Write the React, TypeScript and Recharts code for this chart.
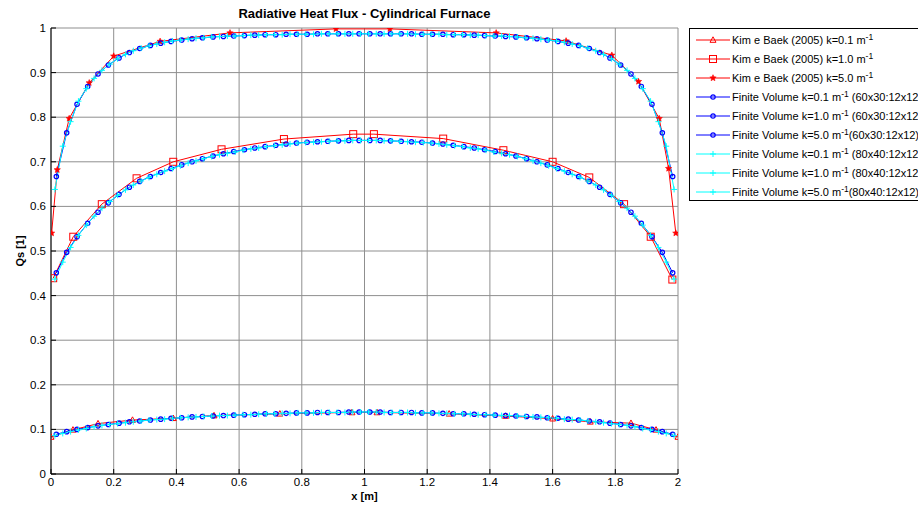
import React from 'react';
import { LineChart, Line, XAxis, YAxis, CartesianGrid } from 'recharts';

const X_TICKS = [0, 0.2, 0.4, 0.6, 0.8, 1, 1.2, 1.4, 1.6, 1.8, 2];
const Y_TICKS = [0, 0.1, 0.2, 0.3, 0.4, 0.5, 0.6, 0.7, 0.8, 0.9, 1];

// Kim e Baek (2005) reference points
const KIM_K01_X = [0, 0.07, 0.15, 0.26, 0.39, 0.52, 0.73, 0.96, 1.04, 1.27, 1.45, 1.6, 1.72, 1.85, 1.93, 2];
const KIM_K01_Y = [0.083, 0.099, 0.113, 0.121, 0.125, 0.131, 0.135, 0.138, 0.138, 0.135, 0.130, 0.124, 0.117, 0.114, 0.099, 0.083];
const KIM_K1_X = [0.007, 0.071, 0.162, 0.273, 0.39, 0.544, 0.743, 0.964, 1.03, 1.251, 1.443, 1.6, 1.717, 1.828, 1.913, 1.982];
const KIM_K1_Y = [0.439, 0.532, 0.605, 0.663, 0.700, 0.728, 0.751, 0.762, 0.762, 0.752, 0.726, 0.700, 0.665, 0.605, 0.532, 0.436];
const KIM_K5_X = [0.002, 0.02, 0.058, 0.122, 0.2, 0.348, 0.571, 0.909, 1.081, 1.42, 1.643, 1.789, 1.874, 1.94, 1.97, 1.993];
const KIM_K5_Y = [0.540, 0.682, 0.797, 0.877, 0.937, 0.970, 0.989, 0.998, 0.998, 0.989, 0.971, 0.939, 0.880, 0.797, 0.685, 0.540];

// Finite Volume 60x30 cell centres
const FV60_X = [0.017, 0.05, 0.083, 0.117, 0.15, 0.183, 0.217, 0.25, 0.283, 0.317, 0.35, 0.383, 0.417, 0.45, 0.483, 0.517, 0.55, 0.583, 0.617, 0.65, 0.683, 0.717, 0.75, 0.783, 0.817, 0.85, 0.883, 0.917, 0.95, 0.983,
  1.017, 1.05, 1.083, 1.117, 1.15, 1.183, 1.217, 1.25, 1.283, 1.317, 1.35, 1.383, 1.417, 1.45, 1.483, 1.517, 1.55, 1.583, 1.617, 1.65, 1.683, 1.717, 1.75, 1.783, 1.817, 1.85, 1.883, 1.917, 1.95, 1.983];
const FV60_K01 = [0.089, 0.095, 0.100, 0.104, 0.108, 0.111, 0.114, 0.117, 0.119, 0.121, 0.123, 0.125, 0.126, 0.128, 0.129, 0.130, 0.131, 0.132, 0.133, 0.134, 0.135, 0.135, 0.136, 0.137, 0.137, 0.138, 0.138, 0.138, 0.139, 0.139,
  0.139, 0.139, 0.138, 0.138, 0.138, 0.137, 0.137, 0.136, 0.135, 0.135, 0.134, 0.133, 0.132, 0.131, 0.130, 0.129, 0.128, 0.126, 0.125, 0.123, 0.121, 0.119, 0.117, 0.114, 0.111, 0.108, 0.104, 0.100, 0.095, 0.089];
const FV60_K1 = [0.451, 0.497, 0.532, 0.562, 0.587, 0.608, 0.627, 0.643, 0.656, 0.667, 0.676, 0.685, 0.693, 0.700, 0.707, 0.713, 0.718, 0.723, 0.727, 0.731, 0.734, 0.737, 0.740, 0.742, 0.744, 0.745, 0.746, 0.747, 0.748, 0.748,
  0.748, 0.748, 0.747, 0.746, 0.745, 0.744, 0.742, 0.740, 0.737, 0.734, 0.731, 0.727, 0.723, 0.718, 0.713, 0.707, 0.700, 0.693, 0.685, 0.676, 0.667, 0.656, 0.643, 0.627, 0.608, 0.587, 0.562, 0.532, 0.497, 0.451];
const FV60_K5 = [0.667, 0.765, 0.829, 0.869, 0.897, 0.917, 0.933, 0.945, 0.954, 0.961, 0.966, 0.970, 0.973, 0.976, 0.978, 0.980, 0.981, 0.982, 0.983, 0.984, 0.985, 0.985, 0.986, 0.986, 0.986, 0.987, 0.987, 0.987, 0.987, 0.987,
  0.987, 0.987, 0.987, 0.987, 0.987, 0.986, 0.986, 0.986, 0.985, 0.985, 0.984, 0.983, 0.982, 0.981, 0.980, 0.978, 0.976, 0.973, 0.970, 0.966, 0.961, 0.954, 0.945, 0.933, 0.917, 0.897, 0.869, 0.829, 0.765, 0.667];

// Finite Volume 80x40 cell centres
const FV80_X = [0.0125, 0.0375, 0.0625, 0.0875, 0.1125, 0.1375, 0.1625, 0.1875, 0.2125, 0.2375,
  0.2625, 0.2875, 0.3125, 0.3375, 0.3625, 0.3875, 0.4125, 0.4375, 0.4625, 0.4875,
  0.5125, 0.5375, 0.5625, 0.5875, 0.6125, 0.6375, 0.6625, 0.6875, 0.7125, 0.7375,
  0.7625, 0.7875, 0.8125, 0.8375, 0.8625, 0.8875, 0.9125, 0.9375, 0.9625, 0.9875,
  1.0125, 1.0375, 1.0625, 1.0875, 1.1125, 1.1375, 1.1625, 1.1875, 1.2125, 1.2375,
  1.2625, 1.2875, 1.3125, 1.3375, 1.3625, 1.3875, 1.4125, 1.4375, 1.4625, 1.4875,
  1.5125, 1.5375, 1.5625, 1.5875, 1.6125, 1.6375, 1.6625, 1.6875, 1.7125, 1.7375,
  1.7625, 1.7875, 1.8125, 1.8375, 1.8625, 1.8875, 1.9125, 1.9375, 1.9625, 1.9875];
const FV80_K01 = [0.086, 0.091, 0.095, 0.099, 0.102, 0.106, 0.109, 0.111, 0.113, 0.115, 0.117, 0.119, 0.121, 0.122, 0.123, 0.125, 0.126, 0.127, 0.128, 0.129,
  0.130, 0.131, 0.131, 0.132, 0.133, 0.133, 0.134, 0.135, 0.135, 0.136, 0.136, 0.137, 0.137, 0.137, 0.138, 0.138, 0.138, 0.138, 0.139, 0.139,
  0.139, 0.139, 0.138, 0.138, 0.138, 0.138, 0.137, 0.137, 0.137, 0.136, 0.136, 0.135, 0.135, 0.134, 0.133, 0.133, 0.132, 0.131, 0.131, 0.130,
  0.129, 0.128, 0.127, 0.126, 0.125, 0.123, 0.122, 0.121, 0.119, 0.117, 0.115, 0.113, 0.111, 0.109, 0.106, 0.102, 0.099, 0.095, 0.091, 0.086];
const FV80_K1 = [0.437, 0.475, 0.508, 0.535, 0.558, 0.578, 0.596, 0.611, 0.625, 0.637, 0.648, 0.657, 0.665, 0.672, 0.679, 0.685, 0.691, 0.697, 0.702, 0.707,
  0.712, 0.716, 0.719, 0.722, 0.726, 0.729, 0.731, 0.734, 0.736, 0.738, 0.740, 0.742, 0.743, 0.744, 0.745, 0.746, 0.747, 0.747, 0.748, 0.748,
  0.748, 0.748, 0.747, 0.747, 0.746, 0.745, 0.744, 0.743, 0.742, 0.740, 0.738, 0.736, 0.734, 0.731, 0.729, 0.726, 0.722, 0.719, 0.716, 0.712,
  0.707, 0.702, 0.697, 0.691, 0.685, 0.679, 0.672, 0.665, 0.657, 0.648, 0.637, 0.625, 0.611, 0.596, 0.578, 0.558, 0.535, 0.508, 0.475, 0.437];
const FV80_K5 = [0.638, 0.735, 0.790, 0.836, 0.864, 0.887, 0.905, 0.919, 0.931, 0.941, 0.949, 0.955, 0.960, 0.964, 0.968, 0.971, 0.973, 0.975, 0.977, 0.978,
  0.980, 0.981, 0.982, 0.982, 0.983, 0.984, 0.984, 0.985, 0.985, 0.985, 0.986, 0.986, 0.986, 0.986, 0.987, 0.987, 0.987, 0.987, 0.987, 0.987,
  0.987, 0.987, 0.987, 0.987, 0.987, 0.987, 0.986, 0.986, 0.986, 0.986, 0.985, 0.985, 0.985, 0.984, 0.984, 0.983, 0.982, 0.982, 0.981, 0.980,
  0.978, 0.977, 0.975, 0.973, 0.971, 0.968, 0.964, 0.960, 0.955, 0.949, 0.941, 0.931, 0.919, 0.905, 0.887, 0.864, 0.836, 0.790, 0.735, 0.638];

const LEGEND_LABELS = [
  ['Kim e Baek (2005) k=0.1 m', '-1', ''],
  ['Kim e Baek (2005) k=1.0 m', '-1', ''],
  ['Kim e Baek (2005) k=5.0 m', '-1', ''],
  ['Finite Volume k=0.1 m', '-1', ' (60x30:12x12)'],
  ['Finite Volume k=1.0 m', '-1', ' (60x30:12x12)'],
  ['Finite Volume k=5.0 m', '-1', '(60x30:12x12)'],
  ['Finite Volume k=0.1 m', '-1', ' (80x40:12x12)'],
  ['Finite Volume k=1.0 m', '-1', ' (80x40:12x12)'],
  ['Finite Volume k=5.0 m', '-1', '(80x40:12x12)'],
];

const RED = '#ff0000';
const BLUE = '#0000ff';
const CYAN = '#00ffff';

const pts = (xs: number[], ys: number[]) => xs.map((x, i) => ({ x, y: ys[i] }));

type Shape = 'tri' | 'sq' | 'star' | 'circ' | 'plus';

function markerEl(shape: Shape, cx: number, cy: number, key?: string) {
  switch (shape) {
    case 'tri':
      return <path key={key} d={`M${cx},${cy - 3.2}L${cx + 3},${cy + 2.3}L${cx - 3},${cy + 2.3}Z`} fill="none" stroke={RED} strokeWidth={1} />;
    case 'sq':
      return <rect key={key} x={cx - 3.5} y={cy - 3.5} width={7} height={7} fill="none" stroke={RED} strokeWidth={1} />;
    case 'star': {
      const p: string[] = [];
      for (let i = 0; i < 10; i++) {
        const r = i % 2 === 0 ? 3.3 : 1.5;
        const a = -Math.PI / 2 + (i * Math.PI) / 5;
        p.push(`${cx + r * Math.cos(a)},${cy + r * Math.sin(a)}`);
      }
      return <polygon key={key} points={p.join(' ')} fill={RED} stroke={RED} strokeWidth={0.6} />;
    }
    case 'circ':
      return <circle key={key} cx={cx} cy={cy} r={2.2} fill="none" stroke={BLUE} strokeWidth={1.2} />;
    case 'plus':
    default:
      return (
        <g key={key}>
          <line x1={cx - 3} y1={cy} x2={cx + 3} y2={cy} stroke={CYAN} strokeWidth={1} />
          <line x1={cx} y1={cy - 3} x2={cx} y2={cy + 3} stroke={CYAN} strokeWidth={1} />
        </g>
      );
  }
}

const dotFn = (shape: Shape) => (props: any) => {
  const { cx, cy, index } = props;
  const key = `${shape}-${index}-${cx}-${cy}`;
  if (cx == null || cy == null) return <g key={key} />;
  return markerEl(shape, cx, cy, key);
};

const SERIES: { data: { x: number; y: number }[]; color: string; shape: Shape }[] = [
  { data: pts(KIM_K01_X, KIM_K01_Y), color: RED, shape: 'tri' },
  { data: pts(KIM_K1_X, KIM_K1_Y), color: RED, shape: 'sq' },
  { data: pts(KIM_K5_X, KIM_K5_Y), color: RED, shape: 'star' },
  { data: pts(FV60_X, FV60_K01), color: BLUE, shape: 'circ' },
  { data: pts(FV60_X, FV60_K1), color: BLUE, shape: 'circ' },
  { data: pts(FV60_X, FV60_K5), color: BLUE, shape: 'circ' },
  { data: pts(FV80_X, FV80_K01), color: CYAN, shape: 'plus' },
  { data: pts(FV80_X, FV80_K1), color: CYAN, shape: 'plus' },
  { data: pts(FV80_X, FV80_K5), color: CYAN, shape: 'plus' },
];

const FONT = '"Liberation Sans", Arial, Helvetica, sans-serif';
const tickStyle = { fontSize: 11.5, fill: '#000', fontFamily: FONT };

export default function App() {
  return (
    <div style={{ position: 'absolute', left: 0, top: 0, width: 918, height: 506, background: '#fff', fontFamily: FONT, overflow: 'hidden' }}>
      <LineChart width={918} height={506} margin={{ top: 28, right: 240, bottom: 0, left: 0 }}>
        <CartesianGrid stroke="#8f8f8f" strokeWidth={1} />
        <XAxis
          dataKey="x"
          type="number"
          domain={[0, 2]}
          ticks={X_TICKS}
          height={32}
          tickSize={-5}
          tickMargin={9}
          tick={tickStyle}
          tickFormatter={(v: number) => String(v)}
          axisLine={{ stroke: '#000' }}
          tickLine={{ stroke: '#000' }}
          allowDataOverflow
        />
        <XAxis
          xAxisId="top"
          orientation="top"
          type="number"
          domain={[0, 2]}
          ticks={X_TICKS}
          height={0}
          tickSize={-5}
          tickMargin={0}
          tick={tickStyle}
          tickFormatter={() => ''}
          axisLine={{ stroke: '#000' }}
          tickLine={{ stroke: '#000' }}
        />
        <YAxis
          type="number"
          domain={[0, 1]}
          ticks={Y_TICKS}
          width={51}
          tickSize={-5}
          tickMargin={10}
          tick={tickStyle}
          tickFormatter={(v: number) => String(v)}
          axisLine={{ stroke: '#000' }}
          tickLine={{ stroke: '#000' }}
          allowDataOverflow
        />
        <YAxis
          yAxisId="right"
          orientation="right"
          type="number"
          domain={[0, 1]}
          ticks={Y_TICKS}
          width={0}
          tickSize={-5}
          tickMargin={0}
          tick={tickStyle}
          tickFormatter={() => ''}
          axisLine={{ stroke: '#000' }}
          tickLine={{ stroke: '#000' }}
        />
        {SERIES.map((s, i) => (
          <Line
            key={i}
            data={s.data}
            dataKey="y"
            type="linear"
            stroke={s.color}
            strokeWidth={1}
            dot={dotFn(s.shape)}
            activeDot={false}
            isAnimationActive={false}
            legendType="none"
          />
        ))}
      </LineChart>

      <div style={{ position: 'absolute', left: 0, width: 729, top: 6, textAlign: 'center', fontSize: 13, fontWeight: 'bold', lineHeight: '15px' }}>
        Radiative Heat Flux - Cylindrical Furnace
      </div>
      <div style={{ position: 'absolute', left: 0, width: 729, top: 490, textAlign: 'center', fontSize: 11, fontWeight: 'bold', lineHeight: '13px' }}>
        x [m]
      </div>
      <div style={{ position: 'absolute', left: 20 - 40, top: 251 - 7, width: 80, height: 14, textAlign: 'center', fontSize: 11, fontWeight: 'bold', lineHeight: '14px', transform: 'rotate(-90deg)' }}>
        Qs [1]
      </div>

      <div style={{ position: 'absolute', left: 689, top: 28, width: 240, height: 173, border: '1px solid #000', background: '#fff', boxSizing: 'border-box' }}>
        {LEGEND_LABELS.map((lab, i) => {
          const s = SERIES[i];
          const cy = 11 + i * 19.05;
          return (
            <div key={i} style={{ position: 'absolute', left: 0, top: cy - 9, height: 18, width: 240 }}>
              <svg width={42} height={18} style={{ position: 'absolute', left: 5, top: 0 }}>
                <line x1={1} y1={9} x2={35} y2={9} stroke={s.color} strokeWidth={1} />
                {markerEl(s.shape, 18, 9)}
              </svg>
              <span style={{ position: 'absolute', left: 42, top: 2, fontSize: 11, lineHeight: '14px', whiteSpace: 'nowrap' }}>
                {lab[0]}
                <span style={{ fontSize: 8.5, position: 'relative', top: -4 }}>{lab[1]}</span>
                {lab[2]}
              </span>
            </div>
          );
        })}
      </div>
    </div>
  );
}
